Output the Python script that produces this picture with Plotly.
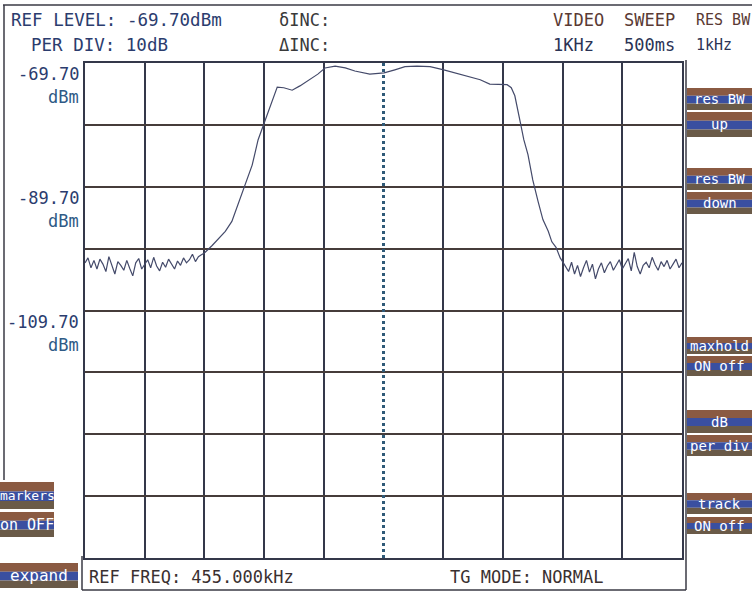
import numpy as np
import plotly.graph_objects as go

W, H = 752, 594

# ---------------- data ----------------
ref_level = -69.70          # dBm (top of screen)
per_div = 10.0              # dB / division
n_vdiv = 8
n_hdiv = 10
center_div = 5.0            # REF FREQ marker position (division)

# noise floor left of the passband (equally spaced, divisions 0..2)
noise_left = [-102.0, -101.2, -102.8, -101.6, -103.0, -101.4, -102.2, -103.4, -101.0, -102.6,
              -103.8, -101.8, -102.4, -103.2, -101.6, -102.9, -104.1, -102.0, -101.3, -103.0,
              -102.2, -101.5, -102.8, -101.1, -102.5, -103.3, -101.9, -102.7, -101.4, -102.1,
              -103.0, -101.7, -102.4, -101.2, -102.0, -101.5, -100.6, -101.8, -101.0, -100.7,
              -100.4]
noise_left_span = (0.0, 2.0)

# filter skirts + passband (division, dBm)
band_x = [2.13, 2.23, 2.35, 2.46, 2.56, 2.68, 2.80, 2.90, 3.00, 3.10, 3.22, 3.33, 3.47, 3.60,
          3.77, 3.90, 4.02, 4.19, 4.36, 4.52, 4.77, 5.01, 5.19, 5.36, 5.56, 5.78, 6.01, 6.20,
          6.40, 6.62, 6.78, 7.07, 7.14, 7.20, 7.29, 7.35, 7.42, 7.50, 7.59, 7.67, 7.76, 7.82,
          7.89, 7.96]
band_y = [-99.2, -98.2, -96.9, -95.3, -92.6, -89.4, -86.2, -82.1, -79.4, -76.5, -73.6, -73.7,
          -74.1, -73.4, -72.4, -71.5, -70.5, -70.2, -70.5, -71.0, -71.5, -71.3, -70.8, -70.3,
          -70.2, -70.3, -70.8, -71.3, -71.8, -72.4, -73.1, -73.2, -73.7, -75.0, -79.2, -82.1,
          -84.5, -88.6, -92.1, -95.0, -96.9, -98.6, -99.5, -101.2]

# noise floor right of the passband (equally spaced, divisions 8..10)
noise_right = [-101.8, -102.6, -103.4, -101.9, -103.8, -102.4, -104.2, -102.8, -101.6, -103.5,
               -102.2, -104.6, -103.0, -102.0, -103.6, -102.5, -101.8, -103.2, -102.4, -101.5,
               -103.0, -102.1, -101.3, -103.3, -100.3, -102.6, -103.8, -102.4, -101.9, -102.8,
               -101.1, -102.3, -103.2, -101.8, -102.6, -101.6, -103.0, -102.2, -101.4, -102.8,
               -102.0]
noise_right_span = (8.0, 10.0)

level_labels = [-69.70, -89.70, -109.70]

header_left = [("REF LEVEL: -69.70dBm", "PER DIV: 10dB")]
header_cols = [("VIDEO", "1KHz"), ("SWEEP", "500ms"), ("RES BW", "1kHz")]
right_buttons = [("res BW", "up"), ("res BW", "down"), ("maxhold", "ON off"),
                 ("dB", "per div"), ("track", "ON off")]
left_buttons = [("markers", "on OFF")]

# ---------------- build trace ----------------
xl = np.linspace(noise_left_span[0], noise_left_span[1], len(noise_left))
xr = np.linspace(noise_right_span[0], noise_right_span[1], len(noise_right))
tx = list(xl) + band_x + list(xr)
ty = noise_left + band_y + noise_right

bottom = ref_level - n_vdiv * per_div

FONT = "DejaVu Sans Mono"
GRID = "#34384a"


def px(x):
    return x / W


def py(y):
    return 1 - y / H


fig = go.Figure()
fig.add_trace(go.Scatter(x=tx, y=ty, mode="lines",
                         line=dict(color="#444a6a", width=1.2), hoverinfo="skip"))
# centre frequency marker
fig.add_trace(go.Scatter(x=[center_div, center_div], y=[bottom, ref_level], mode="lines",
                         line=dict(color="#2f5a78", width=3, dash="dot"), hoverinfo="skip"))

grid_x = [i for i in range(1, n_hdiv) if i != center_div]
grid_y = [ref_level - i * per_div for i in range(1, n_vdiv)]

fig.update_layout(
    width=W, height=H, margin=dict(l=0, r=0, t=0, b=0),
    paper_bgcolor="white", plot_bgcolor="white", showlegend=False,
    xaxis=dict(domain=[px(85), px(682)], range=[0, n_hdiv], tickvals=grid_x,
               showticklabels=False, ticks="", showgrid=True, gridcolor=GRID, gridwidth=1.5,
               zeroline=False, showline=True, linecolor=GRID, linewidth=1.5, mirror=True),
    yaxis=dict(domain=[py(558), py(63)], range=[bottom, ref_level], tickvals=grid_y,
               showticklabels=False, ticks="", showgrid=True, gridcolor="#463c3a", gridwidth=1.5,
               zeroline=False, showline=True, linecolor=GRID, linewidth=1.5, mirror=True),
)

shapes = []
ann = []

# frames
frame = dict(color="#3a3a44", width=1.5)
shapes.append(dict(type="line", xref="paper", yref="paper", x0=px(3), x1=px(752), y0=py(5), y1=py(5), line=frame))
shapes.append(dict(type="line", xref="paper", yref="paper", x0=px(4), x1=px(4), y0=py(5), y1=py(480), line=frame))
shapes.append(dict(type="line", xref="paper", yref="paper", x0=px(686), x1=px(686), y0=py(60), y1=py(590), line=frame))
shapes.append(dict(type="line", xref="paper", yref="paper", x0=px(82), x1=px(82), y0=py(556), y1=py(590), line=frame))
shapes.append(dict(type="line", xref="paper", yref="paper", x0=px(82), x1=px(686), y0=py(590), y1=py(590), line=frame))


def text(x, y, s, color, size=17, anchor="left"):
    ann.append(dict(x=px(x), y=py(y), xref="paper", yref="paper", text=s, showarrow=False,
                    xanchor=anchor, yanchor="middle", font=dict(family=FONT, size=size, color=color)))


# header
text(9, 20, header_left[0][0], "#2b3c6e", size=17.5)
text(29, 45, header_left[0][1], "#2b3c6e", size=17.5)
text(277, 20, "δINC:", "#3a3a3a")
text(277, 45, "ΔINC:", "#3a3a3a")
for (top, bot), x, sz in zip(header_cols, [551, 622, 694], [17, 17, 15]):
    text(x, 20, top, "#5a3a34", size=sz)
    text(x, 45, bot, "#2b3355", size=sz)

# level labels
for lv in level_labels:
    ann.append(dict(x=px(81), y=lv, xref="paper", yref="y", text=f"{lv:.2f}", showarrow=False,
                    xanchor="right", yanchor="top", yshift=1,
                    font=dict(family=FONT, size=17, color="#2b3c6e")))
    ann.append(dict(x=px(81), y=lv, xref="paper", yref="y", text="dBm", showarrow=False,
                    xanchor="right", yanchor="top", yshift=-22,
                    font=dict(family=FONT, size=17, color="#2f5a86")))

# footer
text(87, 577, "REF FREQ: 455.000kHz", "#3a3030")
text(448, 577, "TG MODE: NORMAL", "#3a3030")


def button(x0, x1, y0, y1, label, size=16, anchor="center"):
    h = (y1 - y0)
    stripes = [("#8a5a42", 0.0, 0.35), ("#3a4fa0", 0.35, 0.7), ("#6a5a48", 0.7, 1.0)]
    for c, a, b in stripes:
        shapes.append(dict(type="rect", xref="paper", yref="paper", x0=px(x0), x1=px(x1),
                           y0=py(y0 + a * h), y1=py(y0 + b * h), fillcolor=c, line=dict(width=0),
                           layer="below"))
    xa = px((x0 + x1) / 2) if anchor == "center" else px(x0 + 1)
    ann.append(dict(x=xa, y=py((y0 + y1) / 2),
                    xref="paper", yref="paper", text=label, showarrow=False,
                    xanchor=anchor, yanchor="middle",
                    font=dict(family=FONT, size=size, color="white")))


rb_rows = [(88, 110, 112, 137), (168, 190, 192, 214), (337, 354, 356, 376),
           (410, 433, 435, 456), (493, 514, 517, 534)]
for (a, b), (t0, t1, b0, b1) in zip(right_buttons, rb_rows):
    button(687, 752, t0, t1, a, size=14)
    button(687, 752, b0, b1, b, size=14)

button(0, 54, 482, 509, left_buttons[0][0], size=13)
button(0, 54, 512, 537, left_buttons[0][1], size=15)
button(0, 78, 563, 588, "expand", size=16)

fig.update_layout(shapes=shapes, annotations=ann)
fig.write_html("out.html", config={"displayModeBar": False},
               post_script="document.body.style.margin='0';")
